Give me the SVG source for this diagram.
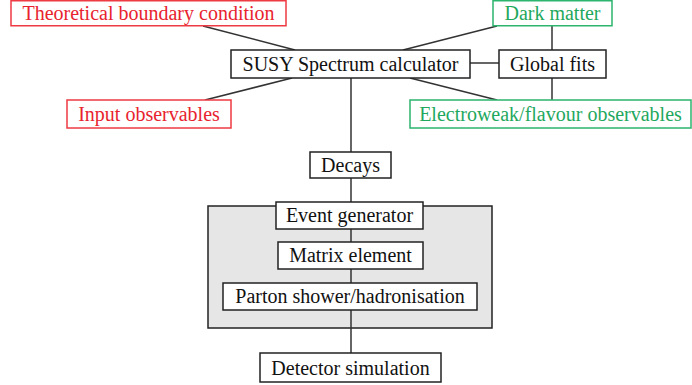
<svg xmlns="http://www.w3.org/2000/svg" width="692" height="385" viewBox="0 0 692 385">
<style>
.b{fill:#fff;stroke:#222;stroke-width:1.5}
.r{fill:#fff;stroke:#ee3a42;stroke-width:1.5}
.g{fill:#fff;stroke:#2db46e;stroke-width:1.5}
.tr{fill:#e8232e}
.tg{fill:#1fa85e}
.tb{fill:#111}
.c line{stroke:#333;stroke-width:1.5}
</style>
<rect width="692" height="385" fill="#fff"/>
<rect id="group" x="208" y="206" width="284" height="122" fill="#e6e6e6" stroke="#222" stroke-width="1.5"/>
<g class="c" id="connectors">
<line x1="203" y1="26" x2="295" y2="50"/>
<line x1="205" y1="100" x2="292" y2="78"/>
<line x1="497" y1="26" x2="403" y2="50"/>
<line x1="410" y1="78" x2="497" y2="100"/>
<line x1="470" y1="63" x2="499" y2="63"/>
<line x1="552" y1="26" x2="552" y2="50"/>
<line x1="552" y1="78" x2="552" y2="100"/>
<line x1="351" y1="78" x2="351" y2="152"/>
<line x1="351" y1="178" x2="351" y2="202"/>
<line x1="351" y1="229" x2="351" y2="242"/>
<line x1="351" y1="269" x2="351" y2="283"/>
<line x1="351" y1="310" x2="351" y2="353"/>
</g>
<g font-size="20" text-anchor="middle">
<g id="theoretical"><rect class="r" x="11" y="0.75" width="275" height="25"/><text font-family="Liberation Serif" class="tr" x="148.5" y="20">Theoretical boundary condition</text></g>
<g id="darkmatter"><rect class="g" x="493" y="0.75" width="119" height="25"/><text font-family="Liberation Serif" class="tg" x="552.5" y="20">Dark matter</text></g>
<g id="susy"><rect class="b" x="231" y="50" width="239" height="28"/><text font-family="Liberation Serif" class="tb" x="350.5" y="71">SUSY Spectrum calculator</text></g>
<g id="globalfits"><rect class="b" x="499" y="50" width="107" height="28"/><text font-family="Liberation Serif" class="tb" x="552.5" y="71">Global fits</text></g>
<g id="input"><rect class="r" x="67" y="100" width="164" height="28"/><text font-family="Liberation Serif" class="tr" x="149" y="121">Input observables</text></g>
<g id="electroweak"><rect class="g" x="410" y="100" width="281" height="28"/><text font-family="Liberation Serif" class="tg" x="550.5" y="121">Electroweak/flavour observables</text></g>
<g id="decays"><rect class="b" x="310" y="152" width="81" height="26"/><text font-family="Liberation Serif" class="tb" x="350.5" y="172">Decays</text></g>
<g id="eventgen"><rect class="b" x="276" y="202" width="147" height="27"/><text font-family="Liberation Serif" class="tb" x="349.5" y="222">Event generator</text></g>
<g id="matrix"><rect class="b" x="278" y="242" width="145" height="27"/><text font-family="Liberation Serif" class="tb" x="350.5" y="262">Matrix element</text></g>
<g id="parton"><rect class="b" x="223" y="283" width="254" height="27"/><text font-family="Liberation Serif" class="tb" x="350" y="303">Parton shower/hadronisation</text></g>
<g id="detector"><rect class="b" x="260" y="353" width="181" height="29"/><text font-family="Liberation Serif" class="tb" x="350.5" y="375">Detector simulation</text></g>
</g>
</svg>
